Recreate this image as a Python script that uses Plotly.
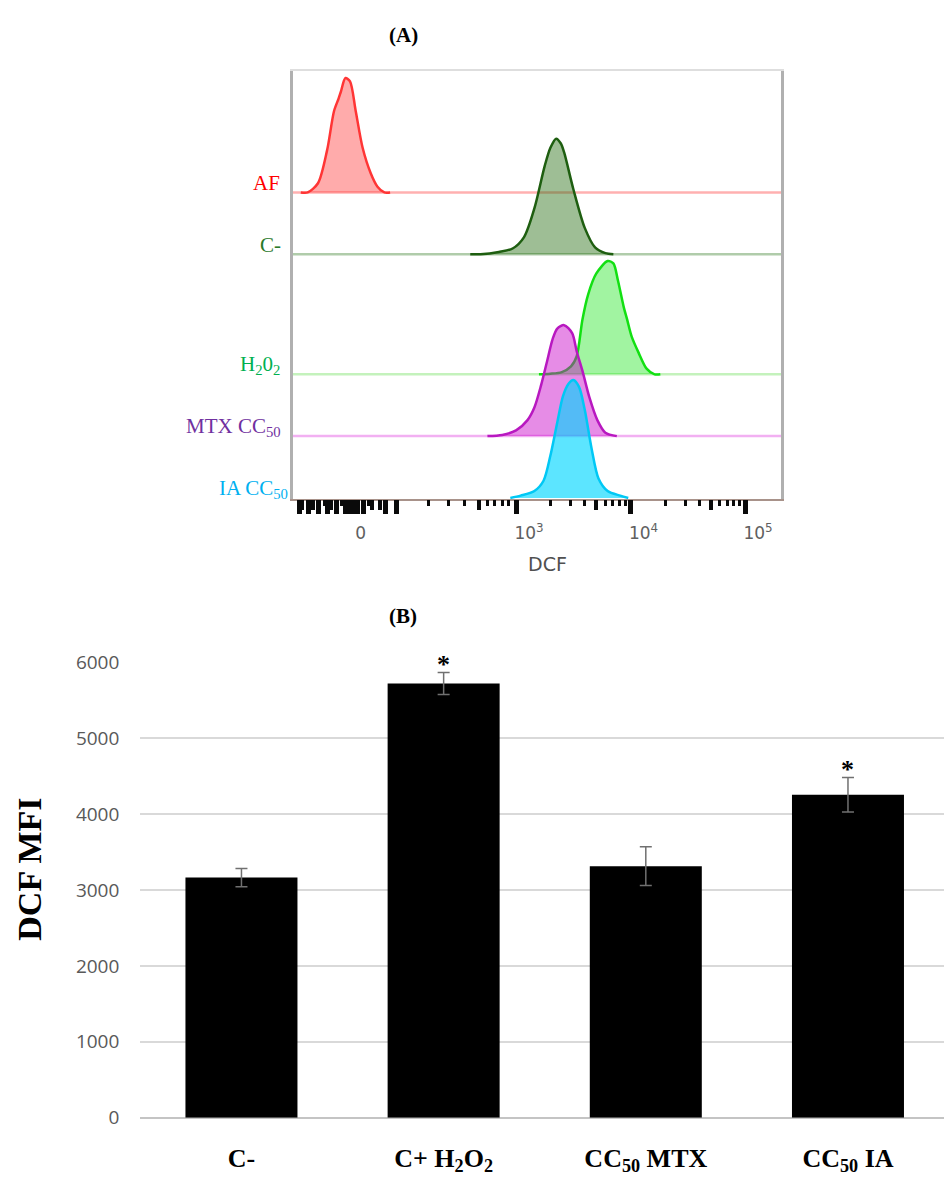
import plotly.graph_objects as go

# ---------------- Panel A: DCF histograms (x in display decades: 3 = 10^3, 4 = 10^4, 5 = 10^5) ----
hist_labels = ["AF", "C-", "H<sub>2</sub>0<sub>2</sub>", "MTX CC<sub>50</sub>", "IA CC<sub>50</sub>"]
hist_offsets = [268, 214, 109, 55, 1]          # stacking offset of each histogram (% of mode units)

af_x = [1.12, 1.18, 1.27, 1.35, 1.41, 1.45, 1.47, 1.51, 1.55, 1.60, 1.66, 1.73, 1.79, 1.85, 1.90]
af_y = [0, 0, 8, 37, 71, 82, 88, 100, 97, 71, 39, 17, 5, 0, 0]

cneg_x = [2.60, 2.69, 2.85, 2.97, 3.07, 3.16, 3.25, 3.30, 3.35, 3.39, 3.42, 3.50, 3.60, 3.69, 3.78, 3.85]
cneg_y = [0, 0, 2, 5, 15, 40, 77, 93, 101, 97, 89, 57, 23, 6, 1, 0]

h2o2_x = [3.20, 3.30, 3.40, 3.48, 3.53, 3.58, 3.63, 3.70, 3.80, 3.85, 3.89, 3.94, 3.97, 4.01, 4.07, 4.14, 4.21, 4.26]
h2o2_y = [0, 0.5, 2, 7, 16, 48, 70, 88, 99, 97, 82, 59, 48, 33, 19, 5, 0, 0]

mtx_x = [2.75, 2.88, 3.00, 3.10, 3.16, 3.22, 3.27, 3.32, 3.36, 3.42, 3.49, 3.53, 3.58, 3.64, 3.71, 3.78, 3.88]
mtx_y = [0, 1, 5, 14, 25, 45, 65, 85, 94, 97, 90, 74, 57, 34, 14, 3, 0]

ia_x = [2.95, 3.04, 3.16, 3.24, 3.30, 3.36, 3.41, 3.46, 3.50, 3.55, 3.60, 3.66, 3.72, 3.80, 3.91, 3.98]
ia_y = [0, 2, 6, 15, 37, 66, 89, 100, 103, 97, 77, 43, 17, 6, 2, 0]

hist_x = [af_x, cneg_x, h2o2_x, mtx_x, ia_x]
hist_y = [af_y, cneg_y, h2o2_y, mtx_y, ia_y]

# axis ticks of the biexponential DCF axis
dcf_tick_pos = [1.53, 3, 4, 5]
dcf_tick_text = ["0", "10<sup>3</sup>", "10<sup>4</sup>", "10<sup>5</sup>"]
major_ticks = [1.105, 1.183, 1.279, 1.349, 1.428, 1.507, 1.541, 1.576, 1.611, 1.672, 1.856, 1.952, 3, 4, 5]
medium_ticks = [1.131, 1.227, 1.384, 1.742, 1.812, 2.677, 3.699, 4.699]
minor_ticks = [1.323, 1.472, 1.707, 2.231, 2.406, 2.546, 2.755, 2.808, 2.878, 2.930,
               3.301, 3.477, 3.602, 3.778, 3.845, 3.903, 3.954,
               4.301, 4.477, 4.602, 4.778, 4.845, 4.903, 4.954]

# ---------------- Panel B: DCF MFI bars ----------------
categories = ["C-", "C+ H<sub>2</sub>O<sub>2</sub>", "CC<sub>50</sub> MTX", "CC<sub>50</sub> IA"]
mfi_values = [3165, 5720, 3315, 4255]
mfi_errors = [120, 145, 255, 227]
significance = ["", "*", "", "*"]

# ---------------- styles ----------------
W, H = 944, 1180
line_colors = ["#ff3535", "#1e5e10", "#12e012", "#b818c0", "#00c8f5"]
fill_colors = ["rgba(255,0,0,0.33)", "rgba(40,110,20,0.45)", "rgba(0,225,0,0.37)",
               "rgba(200,0,200,0.45)", "rgba(0,215,255,0.64)"]
base_colors = ["#ffb0b0", "#b0ccaa", "#c4f2bc", "#f2b0f2", None]
label_colors = ["#ff0000", "#2a7a2a", "#00b050", "#7030a0", "#00b0f0"]
label_xshift = [-11, -10, -11, -10, -3]
XA_RANGE = [1.052, 5.314]
YA_RANGE = [0, 374.4]

fig = go.Figure()

for i in range(len(hist_labels)):
    off = hist_offsets[i]
    if base_colors[i]:
        fig.add_trace(go.Scatter(x=XA_RANGE, y=[off, off], mode="lines",
                                 line=dict(color=base_colors[i], width=2.5),
                                 xaxis="x2", yaxis="y2", hoverinfo="skip", showlegend=False))
    fig.add_trace(go.Scatter(x=hist_x[i], y=[off + v for v in hist_y[i]], mode="lines",
                             line=dict(color=line_colors[i], width=2.5, shape="spline", smoothing=0.8),
                             fill="toself", fillcolor=fill_colors[i],
                             xaxis="x2", yaxis="y2", showlegend=False, name=hist_labels[i]))

# empty carrier traces so that the overlaying tick / frame axes are drawn
for ax in ["x3", "x4", "x5", "x6"]:
    fig.add_trace(go.Scatter(x=XA_RANGE, y=[0, 0], mode="lines", opacity=0,
                             line=dict(width=0), xaxis=ax, yaxis="y2",
                             hoverinfo="skip", showlegend=False))

fig.add_trace(go.Bar(x=categories, y=mfi_values, width=0.554,
                     marker=dict(color="#000000", line=dict(width=0)),
                     error_y=dict(type="data", array=mfi_errors, color="#707070", thickness=1.5, width=6),
                     showlegend=False, xaxis="x", yaxis="y"))

annotations = []
for i, lab in enumerate(hist_labels):
    annotations.append(dict(text=lab, xref="x2 domain", x=0, xanchor="right", xshift=label_xshift[i],
                            yref="y2", y=hist_offsets[i], yanchor="middle", yshift=9, showarrow=False,
                            font=dict(family="Liberation Serif", size=21, color=label_colors[i])))
for c, v, e, s in zip(categories, mfi_values, mfi_errors, significance):
    if s:
        annotations.append(dict(text=s, x=c, y=v + e, xref="x", yref="y", xanchor="center",
                                yanchor="bottom", yshift=-8, showarrow=False,
                                font=dict(family="Liberation Serif", size=26, color="#000000", weight="bold")))
annotations += [
    dict(text="(A)", xref="paper", yref="paper", x=403 / W, y=1 - 22 / H, xanchor="center",
         yanchor="middle", showarrow=False,
         font=dict(family="Liberation Serif", size=21, color="#000", weight="bold")),
    dict(text="(B)", xref="paper", yref="paper", x=403 / W, y=1 - 617 / H, xanchor="center",
         yanchor="middle", showarrow=False,
         font=dict(family="Liberation Serif", size=21, color="#000", weight="bold")),
    dict(text="DCF", xref="x2 domain", x=0.522, yref="paper", y=1 - 563 / H, xanchor="center",
         yanchor="middle", showarrow=False,
         font=dict(family="DejaVu Sans", size=19, color="#505050")),
    dict(text="DCF MFI", xref="paper", yref="paper", x=30 / W, y=1 - 876 / H, xanchor="center",
         yanchor="middle", showarrow=False, textangle=-90,
         font=dict(family="Liberation Serif", size=34, color="#000", weight="bold")),
]

domA_x = [293 / W, 781 / W]
domA_y = [1 - 497 / H, 1 - 59 / H]


def tick_axis(vals, length, width):
    return dict(overlaying="x2", anchor="y2", range=XA_RANGE, tickmode="array", tickvals=vals,
                ticks="outside", ticklen=length, tickwidth=width, tickcolor="#0a0a0a",
                showticklabels=False, showgrid=False, zeroline=False, showline=False)


fig.update_layout(
    width=W, height=H, margin=dict(l=0, r=0, t=0, b=0),
    paper_bgcolor="white", plot_bgcolor="white", showlegend=False,
    # panel B
    xaxis=dict(domain=[0.1487, 1.0], anchor="y", range=[-0.5, 3.475], type="category",
               showline=False, ticks="", showgrid=False, zeroline=False,
               tickfont=dict(family="Liberation Serif", size=26, color="#000", weight="bold"),
               ticklabelstandoff=22),
    yaxis=dict(domain=[1 - 1129.6 / H, 1 - 664 / H], anchor="x", range=[0, 6000], dtick=1000,
               showgrid=True, gridcolor="#d9d9d9", gridwidth=1.5,
               zeroline=True, zerolinecolor="#c4c4c4", zerolinewidth=1.5, showline=False, ticks="",
               tickfont=dict(family="Open Sans", size=19, color="#595959"), ticklabelstandoff=20),
    # panel A
    xaxis2=dict(domain=domA_x, anchor="y2", range=XA_RANGE, tickmode="array",
                tickvals=dcf_tick_pos, ticktext=dcf_tick_text, ticks="", ticklabelshift=13,
                ticklabelstandoff=18, tickfont=dict(family="DejaVu Sans", size=17, color="#606060"),
                showgrid=False, zeroline=False, showline=True, linecolor="#a8928a", linewidth=1.5),
    xaxis3=tick_axis(major_ticks, 14, 5),
    xaxis4=tick_axis(medium_ticks, 10, 3.5),
    xaxis5=tick_axis(minor_ticks, 6, 2.5),
    xaxis6=dict(overlaying="x2", anchor="y2", side="top", range=XA_RANGE, showline=True,
                linecolor="#dedede", linewidth=1.5, ticks="", showticklabels=False,
                showgrid=False, zeroline=False),
    yaxis2=dict(domain=domA_y, anchor="x2", range=YA_RANGE, showline=True, mirror=True,
                linecolor="#b0b0b0", linewidth=2.5, ticks="", showticklabels=False,
                showgrid=False, zeroline=False),
    annotations=annotations,
)

fig.write_html("out.html")
